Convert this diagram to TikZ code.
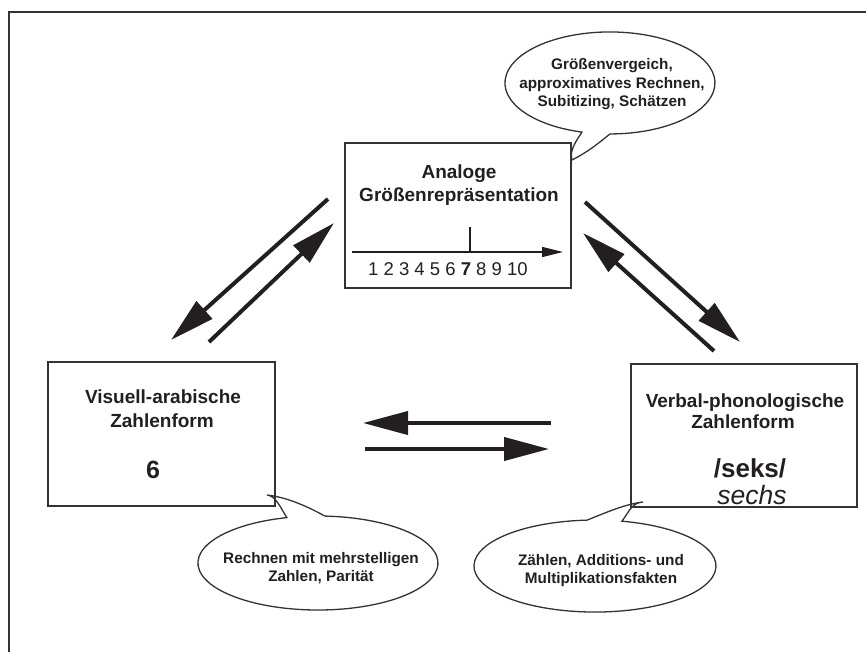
\documentclass[tikz,border=0pt]{standalone}
\usepackage{fontspec}
\setmainfont{Liberation Sans}
\usetikzlibrary{arrows.meta}
\definecolor{ink}{HTML}{231F20}
\definecolor{frame}{HTML}{333333}
\tikzset{
  boxstyle/.style={draw=frame, line width=1.4pt, rectangle, inner sep=0pt},
  bubble/.style={draw=frame, line width=1.3pt, fill=white},
  title/.style={anchor=base, inner sep=0pt, text=ink, font=\fontsize{19}{23}\selectfont\bfseries},
  bubtext/.style={anchor=base, inner sep=0pt, text=ink, font=\fontsize{15.3}{18.5}\selectfont\bfseries},
  bigarrow/.style={line width=4pt, draw=ink, -{Triangle[length=45pt,width=23pt]}},
}
\begin{document}
\begin{tikzpicture}[x=1pt,y=-1pt]
\useasboundingbox (0,0) rectangle (866,652);
\clip (0,0) rectangle (866,652);
% outer frame
\draw[frame, line width=1.5pt] (9,700) -- (9,12) -- (900,12);

% bubbles
\path[bubble] (572,160) .. controls (569,150) and (577,140) .. (581.9,132.1)
  arc[start angle=105.5, end angle=450, x radius=105, y radius=51]
  .. controls (600,142) and (588,152) .. (572,160) -- cycle;
\path[bubble] (267,495) .. controls (276,496) and (280,507) .. (286.9,517.6)
  arc[start angle=255, end angle=-86.7, x radius=120, y radius=47]
  .. controls (305,505) and (285,497) .. (267,495) -- cycle;
\path[bubble] (643,502) .. controls (632,503) and (630,510) .. (622,521.2)
  arc[start angle=282.9, end angle=626.2, x radius=121, y radius=46]
  .. controls (605,513) and (625,504) .. (643,502) -- cycle;

% boxes
\node[boxstyle, minimum width=226pt, minimum height=145pt] (ana) at (458,215.5) {};
\node[boxstyle, minimum width=227pt, minimum height=144pt] (vis) at (161.5,434) {};
\node[boxstyle, minimum width=226pt, minimum height=143pt] (verb) at (744,435.5) {};

% top box text
\node[title] (anaA) at (459,179) {Analoge};
\node[title] (anaB) at (459,202) {Größenrepräsentation};
\coordinate (nlS) at (352,252);
\coordinate (nlE) at (563,252);
\draw[ink, line width=1.3pt, -{Triangle[length=21pt,width=10pt]}] (nlS) -- (nlE);
\coordinate (tickT) at (470,227);
\coordinate (tickB) at (470,252);
\draw[ink, line width=1.1pt] (tickT) -- (tickB);
\node[anchor=base west, inner sep=0pt, text=ink, font=\fontsize{18.5}{22}\selectfont] (nums) at (368,275) {1 2 3 4 5 6 \textbf{7} 8 9 10};

% left box text
\node[title] (visA) at (163,403) {Visuell-arabische};
\node[title] (visB) at (162,427) {Zahlenform};
\node[anchor=base, inner sep=0pt, text=ink, font=\fontsize{25}{30}\selectfont\bfseries] (six) at (153,478) {6};

% right box text
\node[title] (verbA) at (745,407) {Verbal-phonologische};
\node[title] (verbB) at (743,428) {Zahlenform};
\node[anchor=base, inner sep=0pt, text=ink, font=\fontsize{26}{30}\selectfont\bfseries] (seks) at (750,477) {/seks/};
\node[anchor=base, inner sep=0pt, text=ink, font=\fontsize{26.5}{30}\selectfont\itshape] (sechs) at (752,504) {sechs};

% bubble texts
\node[bubtext] (b1a) at (612,70) {Größenvergeich,};
\node[bubtext] (b1b) at (612,88.5) {approximatives Rechnen,};
\node[bubtext] (b1c) at (612,107) {Subitizing, Schätzen};
\node[bubtext] (b2a) at (321,563) {Rechnen mit mehrstelligen};
\node[bubtext] (b2b) at (321,581) {Zahlen, Parität};
\node[bubtext] (b3a) at (601,565) {Zählen, Additions- und};
\node[bubtext] (b3b) at (601,583) {Multiplikationsfakten};

% arrows
\coordinate (a1s) at (328,199); \coordinate (a1e) at (171,340);
\coordinate (a2s) at (209,342); \coordinate (a2e) at (334,223);
\coordinate (a3s) at (585,202); \coordinate (a3e) at (740,342);
\coordinate (a4s) at (714,351); \coordinate (a4e) at (583,233);
\coordinate (a5s) at (551,423); \coordinate (a5e) at (363,423);
\coordinate (a6s) at (365,449); \coordinate (a6e) at (549,449);
\draw[bigarrow] (a1s) -- (a1e);
\draw[bigarrow] (a2s) -- (a2e);
\draw[bigarrow] (a3s) -- (a3e);
\draw[bigarrow] (a4s) -- (a4e);
\draw[bigarrow] (a5s) -- (a5e);
\draw[bigarrow] (a6s) -- (a6e);
\end{tikzpicture}
\end{document}
